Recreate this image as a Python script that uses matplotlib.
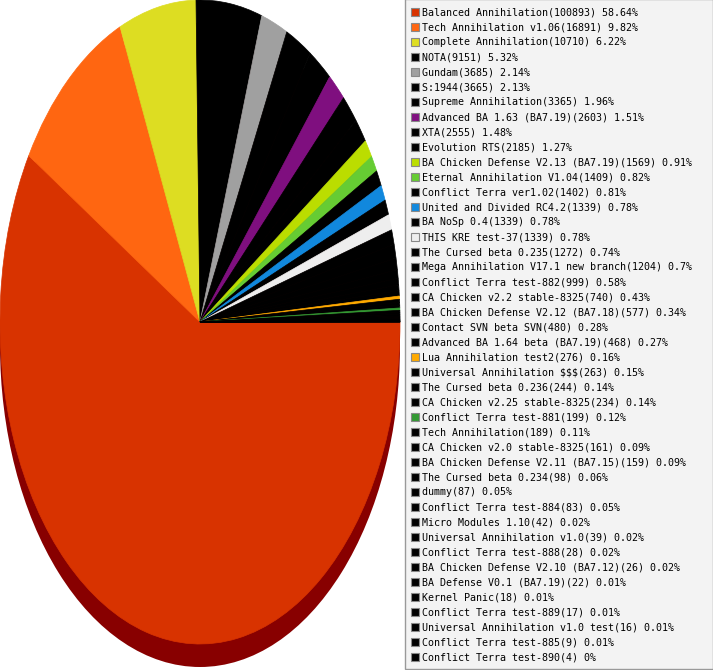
import matplotlib
matplotlib.use("Agg")
import matplotlib.pyplot as plt
from matplotlib.patches import Rectangle, Ellipse

names = [
    "Balanced Annihilation", "Tech Annihilation v1.06", "Complete Annihilation", "NOTA",
    "Gundam", "S:1944", "Supreme Annihilation", "Advanced BA 1.63 (BA7.19)", "XTA",
    "Evolution RTS", "BA Chicken Defense V2.13 (BA7.19)", "Eternal Annihilation V1.04",
    "Conflict Terra ver1.02", "United and Divided RC4.2", "BA NoSp 0.4", "THIS KRE test-37",
    "The Cursed beta 0.235", "Mega Annihilation V17.1 new branch", "Conflict Terra test-882",
    "CA Chicken v2.2 stable-8325", "BA Chicken Defense V2.12 (BA7.18)", "Contact SVN beta SVN",
    "Advanced BA 1.64 beta (BA7.19)", "Lua Annihilation test2", "Universal Annihilation $$$",
    "The Cursed beta 0.236", "CA Chicken v2.25 stable-8325", "Conflict Terra test-881",
    "Tech Annihilation", "CA Chicken v2.0 stable-8325", "BA Chicken Defense V2.11 (BA7.15)",
    "The Cursed beta 0.234", "dummy", "Conflict Terra test-884", "Micro Modules 1.10",
    "Universal Annihilation v1.0", "Conflict Terra test-888", "BA Chicken Defense V2.10 (BA7.12)",
    "BA Defense V0.1 (BA7.19)", "Kernel Panic", "Conflict Terra test-889",
    "Universal Annihilation v1.0 test", "Conflict Terra test-885", "Conflict Terra test-890",
]
counts = [
    100893, 16891, 10710, 9151, 3685, 3665, 3365, 2603, 2555, 2185, 1569, 1409, 1402,
    1339, 1339, 1339, 1272, 1204, 999, 740, 577, 480, 468, 276, 263, 244, 234, 199,
    189, 161, 159, 98, 87, 83, 42, 39, 28, 26, 22, 18, 17, 16, 9, 4,
]
pcts = [
    "58.64%", "9.82%", "6.22%", "5.32%", "2.14%", "2.13%", "1.96%", "1.51%", "1.48%",
    "1.27%", "0.91%", "0.82%", "0.81%", "0.78%", "0.78%", "0.78%", "0.74%", "0.7%",
    "0.58%", "0.43%", "0.34%", "0.28%", "0.27%", "0.16%", "0.15%", "0.14%", "0.14%",
    "0.12%", "0.11%", "0.09%", "0.09%", "0.06%", "0.05%", "0.05%", "0.02%", "0.02%",
    "0.02%", "0.02%", "0.01%", "0.01%", "0.01%", "0.01%", "0.01%", "0%",
]
K = "#000000"
colors = [
    "#D83300", "#FF6611", "#DDDD22", K, "#A0A0A0", K, K, "#7F0F7F", K, K,
    "#BBDD00", "#66CC33", K, "#1188DD", K, "#EEEEEE", K, K, K, K, K, K, K,
    "#FFAA00", K, K, K, "#339933", K, K, K, K, K, K, K, K, K, K, K, K, K, K, K, K,
]

W, H = 713, 670
fig = plt.figure(figsize=(W / 100, H / 100), dpi=100)

# pie axes: ellipse center (200,322) px, semi-axes 200 x 322 px
cx, cy, rx, ry = 200.0, 322.0, 200.0, 322.0
ax = fig.add_axes([0, 0, 1, 1])

shadow_off = 23.0 / ry
ax.add_patch(Ellipse((0, -shadow_off), 2, 2, facecolor="#880000", edgecolor="none", zorder=1))
wedges, _ = ax.pie(counts, colors=colors, startangle=0, counterclock=False,
                   radius=1, center=(0, 0), frame=True,
                   wedgeprops=dict(linewidth=0, antialiased=True))
for w, col in zip(wedges, colors):
    w.set_zorder(2)
    w.set_edgecolor(col)
    w.set_linewidth(0.5)
ax.set_aspect("auto")
ax.set_xlim(-cx / rx, (W - cx) / rx)
ax.set_ylim(-(H - cy) / ry, cy / ry)
ax.axis("off")

# legend box
lax = fig.add_axes([0, 0, 1, 1], facecolor="none")
lax.set_xlim(0, W)
lax.set_ylim(H, 0)
lax.axis("off")
lax.add_patch(Rectangle((405, -1), 307.5, 670, facecolor="#F3F3F3", edgecolor="#999999", linewidth=1))
y0, dy = 12.3, 15.0
for i, (n, c, p, col) in enumerate(zip(names, counts, pcts, colors)):
    y = y0 + i * dy
    lax.add_patch(Rectangle((410.5, y - 4.5), 8.5, 8.5, facecolor=col, edgecolor="#888888", linewidth=0.8))
    lax.text(422, y, f"{n}({c}) {p}", fontsize=7.2, family="DejaVu Sans Mono",
             va="center", ha="left", color="#000000")

fig.savefig("out.png", dpi=100)
